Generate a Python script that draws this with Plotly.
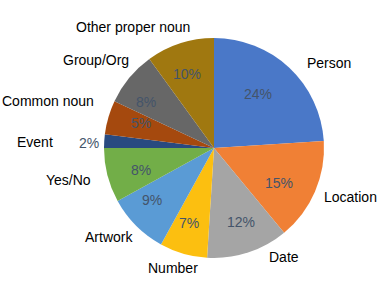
import math
import plotly.graph_objects as go

# ---- data ----
categories = ["Person", "Location", "Date", "Number", "Artwork", "Yes/No",
              "Event", "Common noun", "Group/Org", "Other proper noun"]
shares = [24, 15, 12, 7, 9, 8, 2, 5, 8, 10]

# ---- style ----
colors = ["#4A78C8", "#F08035", "#A5A5A5", "#FCBF10", "#5A9BD5", "#72AE48",
          "#294A80", "#A5490E", "#676767", "#A07810"]
W, H = 392, 298
CX, CY, R = 214, 148, 110
FONT = "Liberation Sans"
PCT_COLOR = "#44546A"

# label nudges (pixels) relative to the computed outside anchor point
label_nudge = {
    "Person": (7, 5), "Location": (-5, 0), "Date": (15, -8), "Number": (-7, 2),
    "Artwork": (8, 2), "Yes/No": (-2, 1), "Event": (-36, 2),
    "Common noun": (0, -13), "Group/Org": (12, -9), "Other proper noun": (-43, -4),
}
label_anchor = {
    "Person": "left", "Location": "left", "Date": "left", "Number": "center",
    "Artwork": "right", "Yes/No": "right", "Event": "right",
    "Common noun": "right", "Group/Org": "right", "Other proper noun": "center",
}

fig = go.Figure(go.Pie(
    labels=categories, values=shares, sort=False, direction="clockwise",
    rotation=0, textinfo="none", marker=dict(colors=colors, line=dict(width=0)),
    domain=dict(x=[(CX - R) / W, (CX + R) / W],
                y=[1 - (CY + R) / H, 1 - (CY - R) / H]),
    showlegend=False,
))

total = sum(shares)
cum = 0
annotations = []
for cat, v in zip(categories, shares):
    mid = (cum + v / 2) / total * 2 * math.pi
    cum += v
    s, c = math.sin(mid), math.cos(mid)
    pct = f"{round(v / total * 100)}%"
    # percentage
    if v / total < 0.03:
        px, py = CX + 1.12 * R * s + 10, CY - 1.12 * R * c + 3
        annotations.append(dict(x=px / W, y=1 - py / H, xref="paper", yref="paper",
                                text=pct, showarrow=False, xanchor="right",
                                font=dict(family=FONT, size=14, color=PCT_COLOR)))
    else:
        px, py = CX + 0.8 * R * s, CY - 0.8 * R * c
        annotations.append(dict(x=px / W, y=1 - py / H, xref="paper", yref="paper",
                                text=pct, showarrow=False,
                                font=dict(family=FONT, size=14, color=PCT_COLOR)))
    # category label
    dx, dy = label_nudge[cat]
    lx, ly = CX + 1.12 * R * s + dx, CY - 1.12 * R * c + dy
    annotations.append(dict(x=lx / W, y=1 - ly / H, xref="paper", yref="paper",
                            text=cat, showarrow=False, xanchor=label_anchor[cat],
                            yanchor="middle",
                            font=dict(family=FONT, size=14, color="#000000")))

fig.update_layout(
    width=W, height=H, margin=dict(l=0, r=0, t=0, b=0),
    paper_bgcolor="white", plot_bgcolor="white",
    annotations=annotations,
)
fig.write_html("out.html", config={"displayModeBar": False},
               post_script="document.body.style.margin='0';")
